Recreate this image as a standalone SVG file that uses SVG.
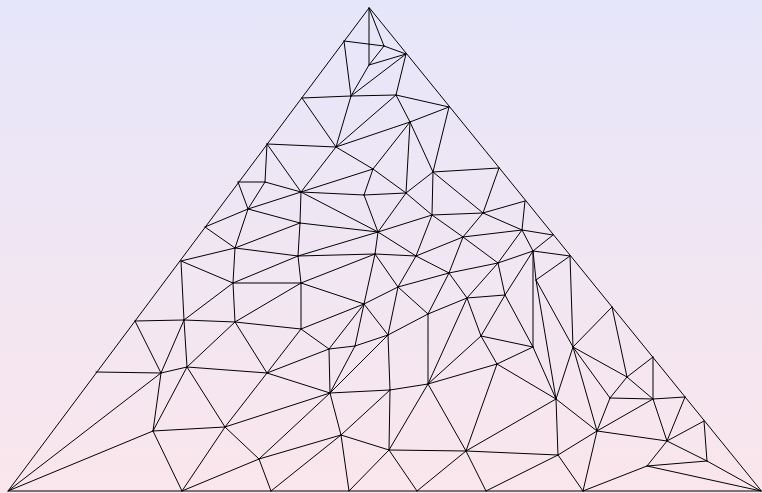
<svg xmlns="http://www.w3.org/2000/svg" width="762" height="493" viewBox="0 0 762 493">
<defs>
<linearGradient id="bg" x1="0" y1="0" x2="0" y2="1">
<stop offset="0" stop-color="#e6e6fa"/>
<stop offset="1" stop-color="#fae6ec"/>
</linearGradient>
<style>
.mesh{fill:none;stroke:#000;stroke-width:1;stroke-linejoin:round;stroke-linecap:round}
</style>
</defs>
<rect width="762" height="493" fill="url(#bg)"/>
<g id="outline">
<polygon class="mesh" points="369,8 8,491 761,491"/>
</g>
<g id="connectors">
<path class="mesh" d="M369 8L369 65M369 8L384 46M344 41L384 46M344 41L351 96M384 46L406 54M384 46L369 65M369 65L406 54M369 65L351 96M351 96L406 54M351 96L302 98M351 96L396 95M351 96L336 147M396 95L406 54M396 95L449 107M396 95L410 122M396 95L336 147M302 98L336 147M336 147L410 122M336 147L267 144M336 147L301 192M336 147L373 169M410 122L449 107M410 122L373 169M410 122L406 193M410 122L433 172M449 107L433 172M433 172L499 168M433 172L406 193M433 172L432 215M433 172L483 213M499 168L483 213M525 201L483 213M525 201L522 230M267 144L265 182M267 144L301 192M238 182L265 182M238 182L248 209M265 182L301 192M265 182L248 209M301 192L248 209M301 192L300 223M301 192L373 169M301 192L364 195M301 192L378 232M373 169L364 195M373 169L406 193M364 195L406 193M364 195L378 232M406 193L378 232M406 193L432 215M432 215L378 232M432 215L483 213M432 215L416 256M432 215L463 237M483 213L463 237M483 213L522 230M205 227L248 209M205 227L235 248M248 209L300 223M248 209L235 248M300 223L235 248M300 223L298 256M300 223L378 232M378 232L298 256M378 232L375 254M378 232L416 256M463 237L416 256M463 237L449 273M463 237L498 263M463 237L522 230M522 230L553 235M522 230L533 251M522 230L498 263M553 235L533 251M533 251L570 256M533 251L498 263M533 251L505 295M533 251L533 347M533 251L536 280M181 261L235 248M181 261L233 283M181 261L184 320M235 248L298 256M235 248L233 283M298 256L233 283M298 256L301 283M298 256L375 254M375 254L416 256M375 254L301 283M375 254L364 304M375 254L398 287M416 256L398 287M416 256L449 273M498 263L449 273M498 263L467 298M498 263L505 295M449 273L398 287M449 273L428 314M449 273L467 298M233 283L301 283M233 283L235 322M233 283L184 320M301 283L364 304M301 283L235 322M301 283L301 329M398 287L364 304M398 287L428 314M398 287L388 335M364 304L301 329M364 304L329 349M364 304L355 346M364 304L388 335M467 298L428 314M467 298L505 295M467 298L481 336M467 298L428 384M505 295L481 336M505 295L533 347M536 280L570 256M536 280L573 347M536 280L556 399M570 256L573 347M612 307L573 347M612 307L627 377M428 314L388 335M428 314L428 384M135 321L184 320M135 321L161 373M184 320L235 322M184 320L161 373M184 320L187 367M235 322L187 367M235 322L267 373M235 322L301 329M301 329L267 373M301 329L329 349M388 335L355 346M388 335L330 393M388 335L390 390M481 336L533 347M481 336L497 364M481 336L428 384M329 349L355 346M329 349L267 373M329 349L330 393M355 346L330 393M533 347L497 364M533 347L556 399M573 347L556 399M573 347L610 398M573 347L627 377M573 347L597 431M497 364L428 384M497 364L556 399M497 364L466 451M96 372L161 373M161 373L8 491M161 373L187 367M161 373L153 431M187 367L267 373M187 367L153 431M187 367L225 427M267 373L330 393M267 373L225 427M330 393L390 390M330 393L225 427M330 393L259 459M330 393L341 435M390 390L428 384M390 390L389 450M390 390L341 435M428 384L389 450M428 384L466 451M556 399L466 451M556 399L558 455M556 399L597 431M627 377L653 357M627 377L610 398M627 377L653 399M610 398L653 399M610 398L597 431M653 357L653 399M653 399L685 397M653 399L597 431M653 399L667 441M685 397L667 441M704 421L667 441M704 421L707 461M153 431L8 491M153 431L225 427M153 431L182 491M225 427L182 491M225 427L259 459M259 459L182 491M259 459L341 435M259 459L271 491M341 435L271 491M341 435L349 491M341 435L389 450M389 450L349 491M389 450L417 491M389 450L466 451M466 451L417 491M466 451L486 491M466 451L558 455M558 455L486 491M558 455L583 491M558 455L597 431M597 431L667 441M597 431L583 491M667 441L707 461M667 441L647 466M707 461L647 466M707 461L761 491M647 466L761 491M647 466L583 491"/>
</g>
</svg>
